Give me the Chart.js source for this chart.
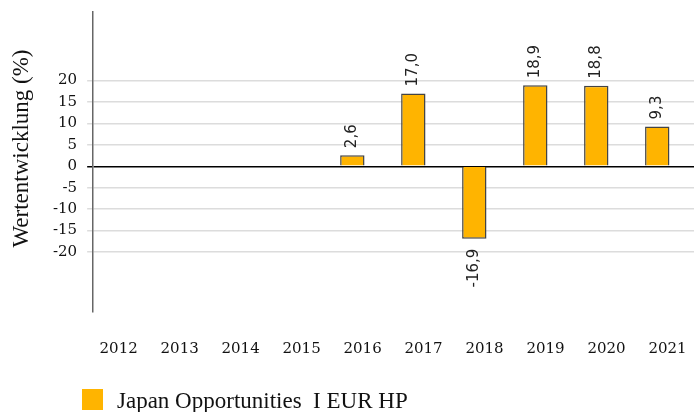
<!DOCTYPE html>
<html>
<head>
<meta charset="utf-8">
<script src="https://cdn.jsdelivr.net/npm/chart.js@4"></script>
<style>
  html, body { margin: 0; padding: 0; background: #fff; overflow: hidden; }
  #wrap { width: 694px; height: 412px; overflow: hidden; }
</style>
</head>
<body>
<div id="wrap"><canvas id="mycanvas" width="703" height="412"></canvas></div>
<script>
var years = ['2012','2013','2014','2015','2016','2017','2018','2019','2020','2021'];
var returns = [null, null, null, null, 2.6, 17.0, -16.9, 18.9, 18.8, 9.3];
// empty second series: keeps the bar in the left half of each year slot, like the original
var spacer = [null, null, null, null, null, null, null, null, null, null];
var yTicks = [-20, -15, -10, -5, 0, 5, 10, 15, 20];
var seriesName = 'Japan Opportunities  I EUR HP';
var yTitle = 'Wertentwicklung (%)';
var barColor = '#FFB400';

var serif = '"Liberation Serif", "Times New Roman", serif';

// value labels, rotated, above positive bars and below negative ones
var barLabels = {
  id: 'barLabels',
  afterDatasetsDraw: function(chart){
    var ctx = chart.ctx;
    var meta = chart.getDatasetMeta(0);
    ctx.save();
    ctx.font = '15px "DejaVu Sans", Arial, sans-serif';
    ctx.fillStyle = '#222';
    ctx.textBaseline = 'middle';
    meta.data.forEach(function(bar, i){
      var v = returns[i];
      if (v === null) return;
      var txt = v.toFixed(1).replace('.', ',');
      ctx.save();
      if (v >= 0) {
        ctx.translate(bar.x, bar.y - 7);
        ctx.rotate(-Math.PI/2);
        ctx.textAlign = 'left';
      } else {
        ctx.translate(bar.x, bar.y + 10);
        ctx.rotate(-Math.PI/2);
        ctx.textAlign = 'right';
      }
      ctx.fillText(txt, 0, 0);
      ctx.restore();
    });
    ctx.restore();
  }
};

// y title and legend drawn by hand so they sit where the original has them
var extras = {
  id: 'extras',
  afterDraw: function(chart){
    var ctx = chart.ctx;
    ctx.save();
    ctx.fillStyle = '#111';
    ctx.font = '23px ' + serif;
    ctx.translate(28, 148.5);
    ctx.rotate(-Math.PI/2);
    ctx.textAlign = 'center';
    ctx.textBaseline = 'alphabetic';
    ctx.fillText(yTitle, 0, 0);
    ctx.restore();

    ctx.save();
    ctx.fillStyle = barColor;
    ctx.fillRect(82, 389, 21, 21);
    ctx.fillStyle = '#111';
    ctx.font = '23px ' + serif;
    ctx.textAlign = 'left';
    ctx.textBaseline = 'alphabetic';
    ctx.fillText(seriesName, 117, 408);
    ctx.restore();
  }
};

var ctx = document.getElementById('mycanvas');
var barGraph = new Chart(ctx, {
  type: 'bar',
  data: {
    labels: years,
    datasets: [{
      label: seriesName,
      data: returns,
      backgroundColor: barColor,
      borderColor: '#444',
      borderWidth: 1.5,
      barPercentage: 0.8,
      categoryPercentage: 1.0
    }, {
      label: '',
      data: spacer,
      backgroundColor: barColor,
      barPercentage: 0.8,
      categoryPercentage: 1.0
    }]
  },
  options: {
    responsive: false,
    animation: false,
    devicePixelRatio: 1,
    layout: { padding: { top: 12, right: 0, left: 43, bottom: 26 } },
    plugins: {
      tooltip: { enabled: false },
      legend: { display: false }
    },
    scales: {
      x: {
        grid: { display: false, drawTicks: false },
        border: { display: false },
        afterFit: function(axis){ axis.paddingLeft = 0; axis.paddingRight = 0; },
        ticks: {
          padding: 28,
          labelOffset: -5,
          color: '#111',
          maxRotation: 0,
          font: { family: '"DejaVu Serif", Georgia, serif', size: 15 }
        }
      },
      y: {
        min: -34,
        max: 36,
        afterBuildTicks: function(axis){
          axis.ticks = yTicks.map(function(v){ return { value: v }; });
        },
        afterFit: function(axis){ axis.paddingTop = 0; axis.paddingBottom = 0; },
        border: { display: true, color: '#666', width: 1.5 },
        grid: {
          drawOnChartArea: true,
          tickLength: 6,
          color: function(c){ return c.tick && c.tick.value === 0 ? '#000' : '#dcdcdc'; },
          lineWidth: 1.5
        },
        ticks: {
          padding: 10,
          color: '#111',
          font: { family: '"DejaVu Serif", Georgia, serif', size: 15 }
        }
      }
    }
  },
  plugins: [barLabels, extras]
});
</script>
</body>
</html>
